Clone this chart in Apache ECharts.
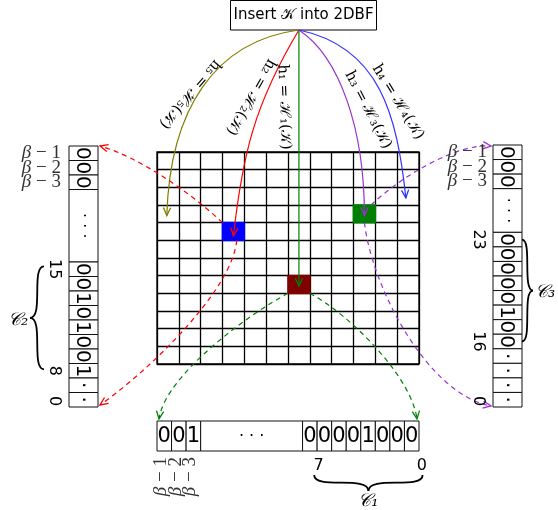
<!DOCTYPE html>
<html><head><meta charset="utf-8">
<script src="https://cdn.jsdelivr.net/npm/echarts@6/dist/echarts.min.js"></script>
<style>html,body{margin:0;padding:0;background:#fff}#main{width:558px;height:510px}</style>
</head><body><div id="main"></div>
<script>
// ---------------- data ----------------
const matrixCols = 12;
const matrixRows = 12;
const hashLabels = ['h₁ = ℋ₁(𝒦)', 'h₂ = ℋ₂(𝒦)', 'h₃ = ℋ₃(𝒦)', 'h₄ = ℋ₄(𝒦)', 'h₅ = ℋ₅(𝒦)'];
const setCellCols = [6, 3, 9];   // cells set by h1, h2, h3
const setCellRows = [7, 4, 3];
const c1Bits = ['0', '0', '0', '0', '1', '0', '0', '0'];   // bits 7..0
const c2Bits = ['0', '0', '1', '0', '1', '0', '0', '1'];   // bits 15..8
const c3Bits = ['0', '0', '0', '0', '0', '1', '0', '0'];   // bits 23..16
const bottomHighBits = ['0', '0', '1'];
const leftHighBits = ['0', '0', '0'];
const rightHighBits = ['0', '0', '0'];
const leftLowBits = ['·', '·'];
const rightLowBits = ['·', '·', '·', '·'];
const betaOffsets = ['1', '2', '3'];
const leftIndexLabels = ['15', '8', '0'];
const rightIndexLabels = ['23', '16', '0'];
const bottomIndexLabels = ['7', '0'];
const segmentNames = ['𝒞₁', '𝒞₂', '𝒞₃'];
const titleText = 'Insert 𝒦 into 2DBF';

// ---------------- styles ----------------
const cellColors = ['#800000', '#0000ff', '#008000'];
const C = { olive: '#808000', red: '#ff0000', green: '#008000', purple: '#9932cc', blue: '#3030ff' };

function buildVector(high, gap, seg, low) {
  const out = []; let u = 0;
  high.forEach(b => { out.push([u, 1, b, 'bit']); u += 1; });
  out.push([u, gap, '· · ·', 'gap']); u += gap;
  seg.forEach(b => { out.push([u, 1, b, 'bit']); u += 1; });
  low.forEach(b => { out.push([u, 1, b, 'bit']); u += 1; });
  return out;
}
const leftVec = buildVector(leftHighBits, 5, c2Bits, leftLowBits);
const rightVec = buildVector(rightHighBits, 3, c3Bits, rightLowBits);
const bottomVec = buildVector(bottomHighBits, 7, c1Bits, []);

const chart = echarts.init(document.getElementById('main'), null, { renderer: 'canvas' });

function hiddenAxis(gi, min, max, inverse) {
  return { gridIndex: gi, type: 'value', min, max, inverse: !!inverse, show: false };
}
function matrixAxis(gi, max, inverse) {
  return { gridIndex: gi, type: 'value', min: 0, max, interval: 1, inverse: !!inverse,
    axisLine: { show: false }, axisTick: { show: false }, axisLabel: { show: false },
    splitLine: { show: true, lineStyle: { color: '#000', width: 1.3 } } };
}

function vertRender(vec) {
  return function (params, api) {
    const d = vec[params.dataIndex];
    const p0 = api.coord([0, d[0]]), p1 = api.coord([1, d[0] + d[1]]);
    const cx = (p0[0] + p1[0]) / 2, cy = (p0[1] + p1[1]) / 2;
    const isGap = d[3] === 'gap';
    return { type: 'group', children: [
      { type: 'rect', shape: { x: p0[0], y: p0[1], width: p1[0] - p0[0], height: p1[1] - p0[1] },
        style: { fill: '#fff', stroke: '#111', lineWidth: 1 } },
      { type: 'text', x: cx + (isGap ? 0 : -1), y: cy, rotation: -Math.PI / 2,
        style: { text: d[2], font: (isGap ? '16px' : '20px') + ' "DejaVu Sans"', fill: '#000', align: 'center', verticalAlign: 'middle' } }
    ] };
  };
}
function horizRender(vec) {
  return function (params, api) {
    const d = vec[params.dataIndex];
    const p0 = api.coord([d[0], 1]), p1 = api.coord([d[0] + d[1], 0]);
    const cx = (p0[0] + p1[0]) / 2, cy = (p0[1] + p1[1]) / 2;
    const isGap = d[3] === 'gap';
    return { type: 'group', children: [
      { type: 'rect', shape: { x: p0[0], y: p0[1], width: p1[0] - p0[0], height: p1[1] - p0[1] },
        style: { fill: '#fff', stroke: '#111', lineWidth: 1 } },
      { type: 'text', x: cx, y: cy + 1,
        style: { text: d[2], font: (isGap ? '16px' : '21px') + ' "DejaVu Sans"', fill: '#000', align: 'center', verticalAlign: 'middle' } }
    ] };
  };
}

chart.setOption({
  animation: false,
  backgroundColor: '#fff',
  grid: [
    { left: 157, top: 152, width: 262, height: 212, show: true, borderColor: '#000', borderWidth: 1.3, backgroundColor: 'transparent' },
    { left: 69, top: 146, width: 29, height: 261 },
    { left: 493, top: 145, width: 29, height: 262 },
    { left: 157, top: 421, width: 262, height: 30 }
  ],
  xAxis: [ matrixAxis(0, matrixCols, false), hiddenAxis(1, 0, 1), hiddenAxis(2, 0, 1), hiddenAxis(3, 0, 18) ],
  yAxis: [ matrixAxis(0, matrixRows, true), hiddenAxis(1, 0, 18, true), hiddenAxis(2, 0, 18, true), hiddenAxis(3, 0, 1) ],
  series: [
    { type: 'custom', xAxisIndex: 0, yAxisIndex: 0, z: 3,
      data: setCellCols.map((c, i) => [c, setCellRows[i]]),
      renderItem: function (params, api) {
        const c = api.value(0), r = api.value(1);
        const p0 = api.coord([c, r]), p1 = api.coord([c + 1, r + 1]);
        const e = 0.8;
        return { type: 'rect', shape: { x: Math.min(p0[0], p1[0]) - e, y: Math.min(p0[1], p1[1]) - e,
          width: Math.abs(p1[0] - p0[0]) + 2 * e, height: Math.abs(p1[1] - p0[1]) + 2 * e },
          style: { fill: cellColors[params.dataIndex] } };
      } },
    { type: 'custom', xAxisIndex: 1, yAxisIndex: 1, data: leftVec.map(d => [d[0], d[1]]), renderItem: vertRender(leftVec) },
    { type: 'custom', xAxisIndex: 2, yAxisIndex: 2, data: rightVec.map(d => [d[0], d[1]]), renderItem: vertRender(rightVec) },
    { type: 'custom', xAxisIndex: 3, yAxisIndex: 3, data: bottomVec.map(d => [d[0], d[1]]), renderItem: horizRender(bottomVec) }
  ]
});

// ---------------- annotations ----------------
const px = (g, p) => chart.convertToPixel({ gridIndex: g }, p);
const add = (p, dx, dy) => [p[0] + dx, p[1] + dy];
const G = [];
const Z = 10;

function curve(P0, C1, C2, P3, color, dashed) {
  G.push({ type: 'bezierCurve', z: Z, shape: { x1: P0[0], y1: P0[1], cpx1: C1[0], cpy1: C1[1], cpx2: C2[0], cpy2: C2[1], x2: P3[0], y2: P3[1] },
    style: { stroke: color, lineWidth: 1.2, fill: null, lineDash: dashed ? [5, 4] : null } });
  head(P3, C2, color);
}
function head(tip, from, color) {
  const dx = tip[0] - from[0], dy = tip[1] - from[1];
  const L = Math.hypot(dx, dy), ux = dx / L, uy = dy / L;
  const len = 8, w = 3.6;
  const b = [tip[0] - ux * len, tip[1] - uy * len];
  G.push({ type: 'polyline', z: Z, shape: { points: [[b[0] - uy * w, b[1] + ux * w], tip, [b[0] + uy * w, b[1] - ux * w]] },
    style: { stroke: color, lineWidth: 1.3, fill: null } });
}
function text(x, y, str, font, rot, align, color, rich) {
  G.push({ type: 'text', z: Z, x, y, rotation: rot || 0,
    style: { text: str, font, fill: color || '#000', align: align || 'center', verticalAlign: 'middle', rich: rich } });
}
function brace(A, B, n, d) {
  const M = [(A[0] + B[0]) / 2, (A[1] + B[1]) / 2];
  const T = [M[0] + n[0] * d, M[1] + n[1] * d];
  [A, B].forEach(P => {
    G.push({ type: 'bezierCurve', z: Z, shape: { x1: P[0], y1: P[1], cpx1: P[0] + n[0] * d * 0.95, cpy1: P[1] + n[1] * d * 0.95,
      cpx2: M[0], cpy2: M[1], x2: T[0], y2: T[1] }, style: { stroke: '#000', lineWidth: 1.8, fill: null } });
  });
  return T;
}

// title box
const O = [px(0, [6.5, 0])[0], 30];
G.push({ type: 'rect', z: Z, shape: { x: 230.5, y: 0.5, width: 146, height: 29.5 }, style: { fill: '#fff', stroke: '#000', lineWidth: 1 } });
text(303.5, 15, titleText, '15px "DejaVu Sans"');

// hash arrows
{
  const P5 = px(0, [0.45, 3.6]);
  curve(O, add(O, -84, 11), add(P5, 3, -106), P5, C.olive, false);
  const P2 = px(0, [3.5, 4.75]);
  curve(O, add(O, -45, 75), add(P2, 9, -80), P2, C.red, false);
  const P1 = px(0, [6.5, 7.6]);
  G.push({ type: 'line', z: Z, shape: { x1: O[0], y1: O[1], x2: P1[0], y2: P1[1] }, style: { stroke: C.green, lineWidth: 1.2 } });
  head(P1, O, C.green);
  const P3 = px(0, [9.5, 3.6]);
  curve(O, add(O, 41, 27), add(P3, 0, -86), P3, C.purple, false);
  const P4 = px(0, [11.4, 2.6]);
  curve(O, add(O, 81, 17), add(P4, -9, -83), P4, C.blue, false);
}

// dashed arrows to vectors
{
  let S = px(0, [3, 4]), E = add(px(1, [1, 0]), 2, 0);
  curve(S, add(S, -35, -33), add(E, 36, 10), E, C.red, true);
  S = px(0, [3.65, 5]); E = add(px(1, [1, 18]), 2, -2);
  curve(S, add(S, -4, 49), add(E, 50, -35), E, C.red, true);
  S = px(0, [6, 8]); E = add(px(3, [0, 1]), 2, -2);
  curve(S, add(S, -38, 20), add(E, 6, -44), E, C.green, true);
  S = px(0, [7, 8]); E = add(px(3, [18, 1]), -2, -2);
  curve(S, add(S, 38, 20), add(E, -6, -44), E, C.green, true);
  S = px(0, [9.8, 3]); E = add(px(2, [0, 0]), -2, 1);
  curve(S, add(S, 33, -31), add(E, -32, -3), E, C.purple, true);
  S = px(0, [9.5, 4]); E = add(px(2, [0, 18]), -2, -1);
  curve(S, add(S, 8, 67), add(E, -62, -11), E, C.purple, true);
}

// hash labels (rotated along arrows)
const mathFont = '15px "DejaVu Serif"';
text(284, 107, hashLabels[0], mathFont, -87.7 * Math.PI / 180);
text(251, 97, hashLabels[1], mathFont, -119.7 * Math.PI / 180);
text(368, 110, hashLabels[2], mathFont, -62.8 * Math.PI / 180);
text(398, 102, hashLabels[3], mathFont, -58.4 * Math.PI / 180);
text(190, 94, hashLabels[4], mathFont, -130.8 * Math.PI / 180);

// beta labels
const betaRich = { b: { fontStyle: 'italic', fontSize: 19, fontFamily: 'Liberation Serif', fill: '#333' },
                   n: { fontSize: 19, fontFamily: 'Liberation Serif', fill: '#333' } };
betaOffsets.forEach((k, i) => {
  const s = '{b|β}{n| − ' + k + '}';
  const l = px(1, [0, i + 0.5]);
  text(l[0] - 8, l[1], s, '19px "Liberation Serif"', 0, 'right', '#333', betaRich);
  const r = px(2, [0, i + 0.5]);
  text(r[0] - 6, r[1], s, '19px "Liberation Serif"', 0, 'right', '#333', betaRich);
  const bt = px(3, [i + 0.5, 0]);
  text(bt[0] - 3, bt[1] + 6, s, '19px "Liberation Serif"', Math.PI / 2, 'right', '#333', betaRich);
});

// index labels
const idxFont = '16px "DejaVu Sans"';
[8.5, 15.5, 17.6].forEach((u, i) => { const p = px(1, [0, u]); text(p[0] - 15, p[1], leftIndexLabels[i], idxFont, -Math.PI / 2); });
[6.5, 13.5, 17.6].forEach((u, i) => { const p = px(2, [0, u]); text(p[0] - 15, p[1], rightIndexLabels[i], idxFont, -Math.PI / 2); });
[11.1, 18.2].forEach((u, i) => { const p = px(3, [u, 0]); text(p[0], p[1] + 15, bottomIndexLabels[i], idxFont); });

// braces
const segFont = 'italic 18px "DejaVu Serif"';
{
  const a = px(3, [10.8, 0]), b = px(3, [18.25, 0]);
  const T = brace([a[0], a[1] + 24], [b[0], b[1] + 24], [0, 1], 16);
  text(T[0], T[1] + 10, segmentNames[0], segFont);
  const la = px(1, [0, 8.3]), lb = px(1, [0, 15.4]);
  const T2 = brace([la[0] - 25, la[1]], [lb[0] - 25, lb[1]], [-1, 0], 14);
  text(T2[0] - 12, T2[1] + 3, segmentNames[1], segFont);
  const ra = px(2, [1, 6.5]), rb = px(2, [1, 13.5]);
  const T3 = brace([ra[0], ra[1]], [rb[0], rb[1]], [1, 0], 11);
  text(T3[0] + 12, T3[1] + 2, segmentNames[2], segFont);
}

chart.setOption({ graphic: G });
</script>
</body></html>
